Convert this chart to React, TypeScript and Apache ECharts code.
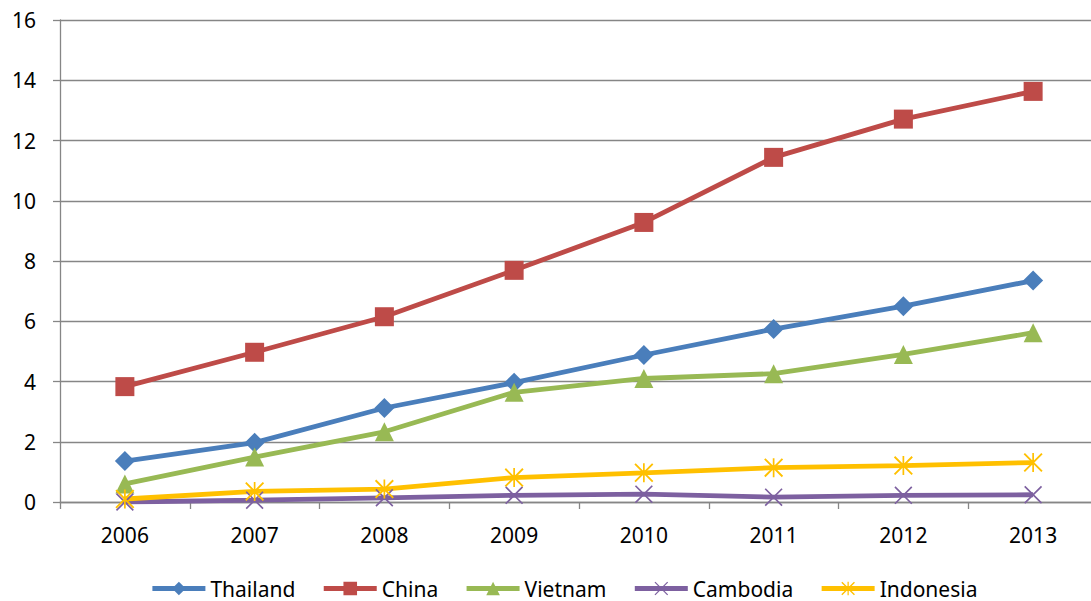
import React, { useEffect, useRef } from "react";
import * as echarts from "echarts";

const years = ["2006", "2007", "2008", "2009", "2010", "2011", "2012", "2013"];
const thailand = [1.36, 1.97, 3.12, 3.96, 4.88, 5.74, 6.5, 7.35];
const china = [3.83, 4.97, 6.15, 7.69, 9.28, 11.44, 12.71, 13.63];
const vietnam = [0.6, 1.49, 2.33, 3.64, 4.1, 4.26, 4.9, 5.62];
const cambodia = [0.0, 0.06, 0.14, 0.22, 0.26, 0.16, 0.22, 0.24];
const indonesia = [0.1, 0.35, 0.43, 0.81, 0.97, 1.14, 1.21, 1.31];

// Thin "x" and asterisk markers built from filled bars
const crossPath =
  "path://M0,1.3 L1.3,0 L20,18.7 L18.7,20 Z M18.7,0 L20,1.3 L1.3,20 L0,18.7 Z";
const starPath =
  "path://M0,1.4 L1.4,0 L20,18.6 L18.6,20 Z M18.6,0 L20,1.4 L1.4,20 L0,18.6 Z M9.1,0 L10.9,0 L10.9,20 L9.1,20 Z";

const FONT = "'Noto Sans', 'DejaVu Sans', sans-serif";
const AXIS_GRAY = "#868686";

export default function App() {
  const ref = useRef<HTMLDivElement>(null);

  useEffect(() => {
    if (!ref.current) return;
    const chart = echarts.init(ref.current, undefined, { renderer: "svg" });

    const mk = (name: string, data: number[], color: string, symbol: string, size: number) => ({
      name,
      type: "line",
      data,
      symbol,
      symbolSize: size,
      showAllSymbol: true,
      lineStyle: { color, width: 4.8 },
      itemStyle: { color, borderWidth: 0 },
      emphasis: { disabled: true },
    });

    chart.setOption({
      animation: false,
      textStyle: { fontFamily: FONT },
      grid: {
        left: 60,
        top: 20,
        right: -7,
        bottom: 99,
        containLabel: false,
        outerBoundsMode: "none",
      },
      legend: {
        left: 150,
        top: 578,
        padding: 0,
        itemWidth: 53,
        itemHeight: 17,
        itemGap: 26,
        lineStyle: { width: 4.8 },
        textStyle: { fontSize: 21, color: "#000", fontFamily: FONT },
        data: ["Thailand", "China", "Vietnam", "Cambodia", "Indonesia"],
      },
      xAxis: {
        type: "category",
        data: years,
        boundaryGap: true,
        axisLine: { lineStyle: { color: AXIS_GRAY, width: 1.3 } },
        axisTick: { show: true, inside: false, length: 7, lineStyle: { color: AXIS_GRAY, width: 1.3 } },
        axisLabel: { color: "#000", fontSize: 21, fontFamily: FONT, margin: 22 },
        splitLine: { show: false },
      },
      yAxis: {
        type: "value",
        min: 0,
        max: 16,
        interval: 2,
        axisLine: { show: true, lineStyle: { color: AXIS_GRAY, width: 1.3 } },
        axisTick: { show: true, inside: false, length: 7, lineStyle: { color: AXIS_GRAY, width: 1.3 } },
        axisLabel: { color: "#000", fontSize: 21, fontFamily: FONT, margin: 24 },
        splitLine: { show: true, lineStyle: { color: AXIS_GRAY, width: 1.3 } },
      },
      series: [
        mk("Thailand", thailand, "#4A7EBB", "diamond", 20),
        mk("China", china, "#BE4B48", "rect", 19),
        mk("Vietnam", vietnam, "#98B954", "triangle", 19),
        mk("Cambodia", cambodia, "#7D60A0", crossPath, 18),
        mk("Indonesia", indonesia, "#FFC000", starPath, 19),
      ],
    });

    return () => chart.dispose();
  }, []);

  return (
    <div
      ref={ref}
      style={{ position: "absolute", left: 0, top: 0, width: 1091, height: 601, background: "#fff" }}
    />
  );
}
